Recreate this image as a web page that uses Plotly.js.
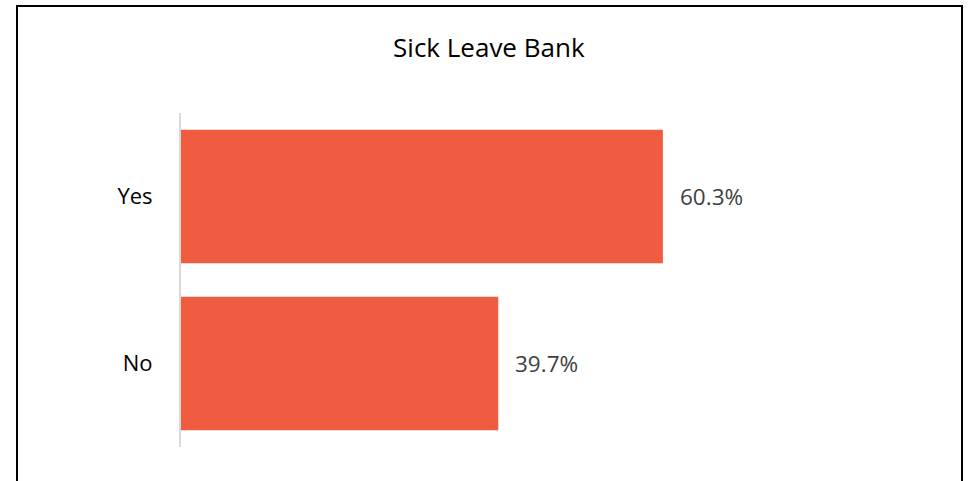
<!DOCTYPE html>
<html>
<head>
<script src="https://cdn.plot.ly/plotly-3.0.1.min.js"></script>
<style>
html,body{margin:0;padding:0;background:#fff;}
#chart{width:968px;height:481px;position:absolute;left:0;top:0;}
#frame{position:absolute;left:16px;top:5px;width:943px;height:520px;border:2px solid #000;pointer-events:none;}
</style>
</head>
<body>
<div id="chart"></div>
<div id="frame"></div>
<script>
const categories = ['No', 'Yes'];
const values = [0.397, 0.603];
const labels = ['39.7%', '60.3%'];
const barColor = '#F05C40';
const fontFam = 'Open Sans, Liberation Sans, sans-serif';

const trace = {
  type: 'bar',
  orientation: 'h',
  y: categories,
  x: values,
  marker: {color: barColor},
  hoverinfo: 'none'
};

const annotations = categories.map((c, i) => ({
  x: values[i], y: c, xref: 'x', yref: 'y',
  text: labels[i], showarrow: false, xanchor: 'left', xshift: 15,
  font: {family: fontFam, size: 22.5, color: '#404040'}
}));

const layout = {
  width: 968, height: 481,
  margin: {l: 181, r: 27, t: 113, b: 34, pad: 0},
  paper_bgcolor: '#fff', plot_bgcolor: '#fff',
  title: {text: 'Sick Leave Bank', x: 0.505, xanchor: 'center', y: 0.9, yanchor: 'middle',
          yref: 'container',
          font: {family: fontFam, size: 26, color: '#000'}},
  bargap: 0.2,
  showlegend: false,
  xaxis: {range: [0, 0.951], visible: false, fixedrange: true},
  yaxis: {showline: true, linecolor: '#d9d9d9', linewidth: 2, ticks: 'outside', ticklen: 22,
          tickcolor: 'rgba(0,0,0,0)', showgrid: false, zeroline: false,
          tickfont: {family: fontFam, size: 22, color: '#000'}, fixedrange: true},
  annotations: annotations
};

Plotly.newPlot('chart', [trace], layout, {displayModeBar: false, staticPlot: true});
</script>
</body>
</html>
